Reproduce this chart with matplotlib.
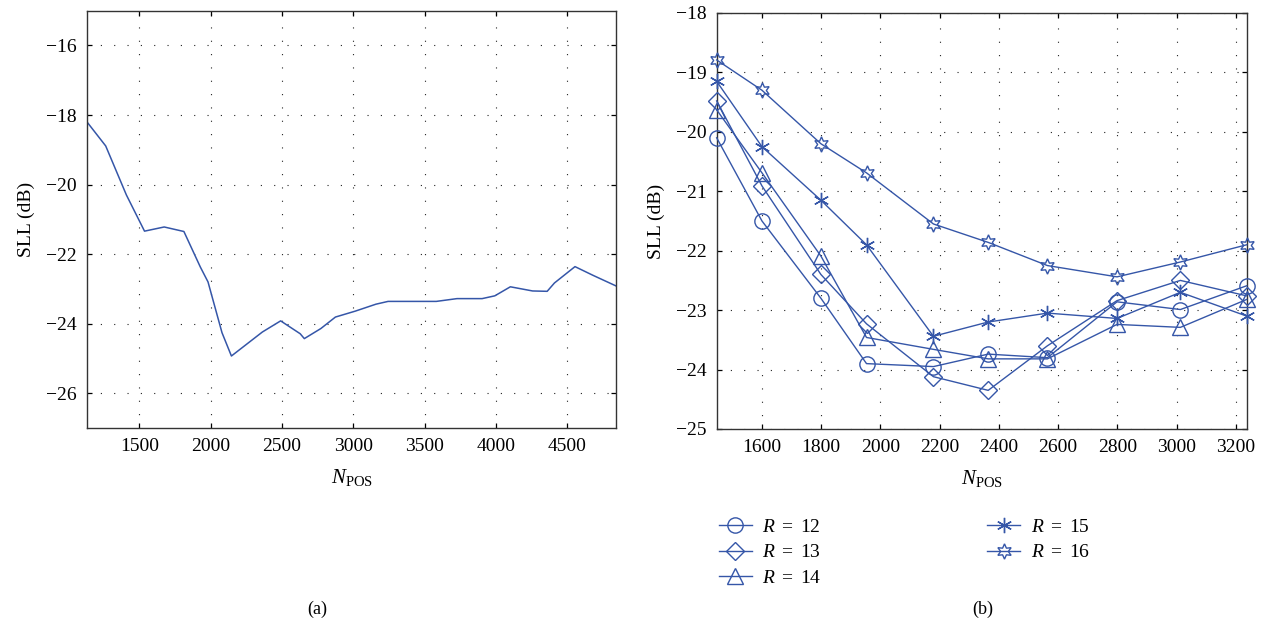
import matplotlib
matplotlib.use('Agg')
import matplotlib.pyplot as plt

# (a) SLL vs N_POS
n_pos_a = [1131, 1264, 1409, 1536, 1674, 1812, 1927, 1981, 2079, 2145,
           2362, 2490, 2627, 2656, 2772, 2874, 3013, 3158, 3243, 3581,
           3726, 3902, 3991, 4100, 4256, 4358, 4409, 4553, 4679, 4843]
sll_a = [-18.19, -18.89, -20.30, -21.34, -21.22, -21.35, -22.37, -22.80, -24.26, -24.93,
         -24.24, -23.92, -24.29, -24.43, -24.14, -23.81, -23.64, -23.44, -23.36, -23.36,
         -23.28, -23.28, -23.20, -22.94, -23.06, -23.07, -22.83, -22.36, -22.61, -22.92]

# (b) SLL vs N_POS for several R
n_pos_b = [1447, 1600, 1799, 1953, 2179, 2364, 2564, 2799, 3013, 3237]
sll_r12 = [-20.10, -21.50, -22.80, -23.90, -23.95, -23.74, -23.80, -22.86, -22.99, -22.59]
sll_r13 = [-19.48, -20.91, -22.40, -23.23, -24.12, -24.35, -23.60, -22.84, -22.50, -22.76]
sll_r14 = [-19.63, -20.69, -22.09, -23.46, -23.66, -23.82, -23.82, -23.24, -23.29, -22.82]
sll_r15 = [-19.15, -20.25, -21.15, -21.90, -23.44, -23.20, -23.05, -23.14, -22.70, -23.10]
sll_r16 = [-18.79, -19.30, -20.20, -20.69, -21.55, -21.86, -22.25, -22.44, -22.19, -21.90]
r_labels = ['12', '13', '14', '15', '16']

plt.rcParams['font.family'] = ['Liberation Serif', 'DejaVu Serif']
plt.rcParams['mathtext.fontset'] = 'custom'
plt.rcParams['mathtext.rm'] = 'Liberation Serif'
plt.rcParams['mathtext.it'] = 'Liberation Serif:italic'
plt.rcParams['font.size'] = 14

blue = '#3556a8'
grid_style = dict(color='#222222', linestyle=(0, (1, 11)), linewidth=0.8)


def style_axes(ax):
    ax.tick_params(direction='in', top=True, right=True, length=3.5, width=0.9,
                   labelsize=14, pad=7)
    for sp in ax.spines.values():
        sp.set_linewidth(1.0)
        sp.set_color('#333333')
    ax.grid(True, **grid_style)
    ax.set_axisbelow(True)


fig = plt.figure(figsize=(12.68, 6.28), dpi=100)
fig.patch.set_facecolor('white')

ax1 = fig.add_axes([0.0684, 0.3185, 0.4177, 0.6645])
ax1.plot(n_pos_a, sll_a, color=blue, linewidth=1.1)
ax1.set_xlim(1131, 4843)
ax1.set_ylim(-27, -15)
ax1.set_xticks([1500, 2000, 2500, 3000, 3500, 4000, 4500])
ax1.set_yticks([-16, -18, -20, -22, -24, -26])
ax1.set_xlabel(r'$N_{\rm POS}$', fontsize=15, labelpad=9)
ax1.set_ylabel('SLL (dB)', fontsize=14, labelpad=8)
style_axes(ax1)

ax2 = fig.add_axes([0.5652, 0.3169, 0.418, 0.6624])
series = [sll_r12, sll_r13, sll_r14, sll_r15, sll_r16]
markers = ['o', 'D', '^', (6, 2, 0), (6, 1, 0)]
sizes = [11, 9, 12, 11, 11]
for vals, m, ms, lab in zip(series, markers, sizes, r_labels):
    ax2.plot(n_pos_b, vals, color=blue, linewidth=1.0, marker=m, markersize=ms,
             markerfacecolor='none', markeredgecolor=blue, markeredgewidth=1.0,
             label=r'$R\ =\ ' + lab + '$', clip_on=False, zorder=3)
ax2.set_xlim(1447, 3237)
ax2.set_ylim(-25, -18)
ax2.set_xticks([1600, 1800, 2000, 2200, 2400, 2600, 2800, 3000, 3200])
ax2.set_yticks([-18, -19, -20, -21, -22, -23, -24, -25])
ax2.set_xlabel(r'$N_{\rm POS}$', fontsize=15, labelpad=9)
ax2.set_ylabel('SLL (dB)', fontsize=14, labelpad=8)
style_axes(ax2)

handles, labels = ax2.get_legend_handles_labels()
fig.legend(handles, labels, loc='upper left', bbox_to_anchor=(0.553, 0.203),
           ncol=2, frameon=False, fontsize=14, handlelength=1.7,
           handletextpad=0.55, labelspacing=0.42, columnspacing=8.5)

fig.text(0.25, 0.03, '(a)', ha='center', va='center', fontsize=13)
fig.text(0.775, 0.03, '(b)', ha='center', va='center', fontsize=13)

fig.savefig('out.png', dpi=100)
